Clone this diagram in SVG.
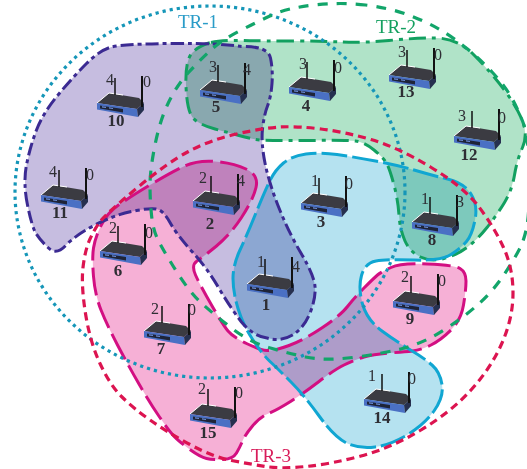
<svg xmlns="http://www.w3.org/2000/svg" xmlns:xlink="http://www.w3.org/1999/xlink" width="527" height="469" viewBox="0 0 527 469">
<style>
text{font-family:"Liberation Serif","DejaVu Serif",serif;text-anchor:middle;fill:#2e2e34}
.d{font-size:16px}
.n{font-size:17px;font-weight:bold}
.tr{font-size:19px}
.f{mix-blend-mode:multiply;stroke:none}
.o,.ring{fill:none}
.o{stroke-width:3;stroke-linecap:butt}
.ring{stroke-width:3.200}
</style>
<defs>
<path id="pu" d="M27.5 205Q23 183 26.500 165Q30 147 36.500 130Q43 113 58 95Q73 77 86.500 63.500Q100 50 111.500 47Q123 44 171.500 43.500Q220 43 241.500 46.500Q268 46 270.500 58Q273 70 272 83.500Q271 97 267.500 106Q264 115 262.500 129Q261 143 265 163Q269 183 279 208Q289 233 301.500 254Q314 275 315 286.500Q316 298 310 313Q304 328 292.500 335Q281 342 267 338Q253 336 241.500 322Q230 307 218.500 287.500Q207 268 192 251.500Q177 235 170 222.500Q163 210 156.500 209Q150 208 136.500 210.500Q123 213 111.500 217.500Q100 222 88.500 228.500Q77 235 67 244Q57 256 48.500 248Q40 240 36 233.500Q32 227 27.500 205Z"/>
<path id="gr" d="M211 42.500Q222 40 243 40.500Q264 41 292.500 41Q321 41 342.500 42Q364 43 389 40.500Q414 38 435.500 38Q457 38 474 55Q491 72 504 89.500Q517 107 522.500 121Q528 135 522.500 147.500Q517 160 514.500 175Q512 190 504.500 202.500Q497 215 487 227.500Q477 240 467 247.500Q457 255 444 258.500Q431 262 420.500 257Q410 252 405 241Q400 230 399 215Q398 200 394 185Q390 170 387 164Q384 158 374 150Q364 142 355.500 141Q347 140 305.500 140.500Q264 141 256 139.500Q248 138 239 135.500Q230 133 215 129Q200 125 193.500 118.500Q187 112 186 86Q185 60 192.500 52.500Q200 45 211 42.500Z"/>
<path id="bl" d="M451 254.500Q441 261 414 260Q387 259 376 261Q365 263 361.500 275.500Q358 288 362.500 304Q367 320 382 331Q397 342 410.500 350Q424 358 432 365Q440 372 442 384.500Q444 397 434 411Q424 425 407 435Q390 445 375 447Q360 449 347.500 443.500Q335 438 319.500 416.500Q304 395 290.500 381.500Q277 368 270 361.500Q263 355 253 340Q243 325 238 308.500Q233 292 233 278.500Q233 265 240 250Q247 235 255.500 214Q264 193 269.500 181.500Q275 170 283.500 163Q292 156 306 154Q320 152 337 154.500Q354 157 375.500 161Q397 165 414 170Q431 175 447.500 179Q464 183 471 194Q478 205 475 220Q472 235 466.500 241.500Q461 248 451 254.500Z"/>
<path id="pk" d="M101 225.500Q107 213 118.500 205Q130 197 150 185Q170 173 183.500 166.500Q197 160 215 161.500Q233 163 246 169Q259 175 256 187.500Q253 200 241.500 217.500Q230 235 216.500 246Q203 257 197 261Q191 265 195.500 275Q200 285 211.500 305Q223 325 228 331Q233 337 246.500 343.500Q260 350 267 350.500Q274 351 289 345.500Q304 340 322.500 327.500Q341 315 347.500 306.500Q354 298 364 288Q374 278 377.500 275Q381 272 391 267.500Q401 263 427.500 264Q454 265 460 268.500Q466 272 466 281Q466 290 463.500 305Q461 320 451 330Q441 340 431 345Q421 350 412.500 351Q404 352 389 353Q374 354 364 357Q354 360 344 365Q334 370 319 381.500Q304 393 290.500 401.500Q277 410 268.500 413.500Q260 417 252.500 426Q245 435 242.500 441Q240 447 236.500 453Q233 459 223 459.500Q213 460 206.500 458.500Q200 457 188.500 448.500Q177 440 172 434Q167 428 158.500 415.500Q150 403 139 384Q128 365 117.500 345Q107 325 101 310Q95 295 93.500 276.500Q92 258 93.500 248Q95 238 101 225.500Z"/>
<g id="router">
<polygon points="-18,11 -6,1 24,6 29,11 22,17" fill="#3b3b42"/>
<polyline points="-18,11 -6,1 8,3" fill="none" stroke="#fff" stroke-width="1"/>
<polygon points="-18,11 22,17 23,25 -18,17.500" fill="#4a70c4"/>
<polygon points="22,17 29,11 29,18 23,25" fill="#26304f"/>
<polygon points="-15,13.500 8,17 8,20.500 -15,16.500" fill="#1e2438"/>
<polygon points="-13,14.200 -9,14.800 -9,16 -13,15.400" fill="#6f8fd6"/>
<polygon points="-6,15.300 -2,15.900 -2,17.100 -6,16.500" fill="#6f8fd6"/>
<line x1="0" y1="-14" x2="0" y2="3" stroke="#111" stroke-width="1.500"/>
<line x1="27" y1="-16" x2="27" y2="15" stroke="#111" stroke-width="2"/>
</g>
</defs>
<rect width="527" height="469" fill="#fff"/>
<g id="regions" style="isolation:isolate">
<use xlink:href="#pu" href="#pu" class="f" fill="#c6bde0"/>
<use xlink:href="#gr" href="#gr" class="f" fill="#b0e3c8"/>
<use xlink:href="#bl" href="#bl" class="f" fill="#b5e2f0"/>
<use xlink:href="#pk" href="#pk" class="f" fill="#f6b0d6"/>
</g>
<g id="connectors">
<use xlink:href="#gr" href="#gr" class="o" stroke="#12a060" stroke-dasharray="17 6 4 6"/>
<use xlink:href="#pk" href="#pk" class="o" stroke="#d30f82" stroke-dasharray="28 7"/>
<use xlink:href="#bl" href="#bl" class="o" stroke="#10a6d2" stroke-dasharray="26 5"/>
<use xlink:href="#pu" href="#pu" class="o" stroke="#3b2a92" stroke-dasharray="13 4 4 4"/>
<ellipse cx="210" cy="192" rx="195" ry="186" class="ring" stroke="#1596b8" stroke-dasharray="3.200 4"/>
<path class="ring" stroke="#12a56a" stroke-dasharray="10 9" d="M365.500 5Q341 2 314 5Q287 8 272 15Q257 22 239.500 31Q222 40 211 50Q200 60 188.500 72.500Q177 85 168.500 102.500Q160 120 155 145Q150 170 150 185Q150 200 151.500 215Q153 230 158 240Q163 250 176.500 271.500Q190 293 203.500 305Q217 317 233.500 329.500Q250 342 268.500 347.500Q287 353 305.500 357Q324 361 352.500 357.500Q381 354 402.500 348.500Q424 343 444 330Q464 317 477.500 305Q491 293 501 279Q511 265 519 250Q527 235 528.500 212.500Q530 190 529 162.500Q528 135 522.500 121Q517 107 510.500 96Q504 85 492.500 72.500Q481 60 467.500 49Q454 38 440.500 30Q427 22 408.500 15Q390 8 365.500 5Z"/>
<path class="ring" stroke="#dc1450" stroke-dasharray="8 5" d="M101 220.500Q107 213 137 188Q167 163 188.500 151.500Q210 140 236.500 134Q263 128 280 127Q297 126 321 129Q345 132 371 139.500Q397 147 430.500 167Q464 187 479 207Q494 227 503.500 247.500Q513 268 513 293Q513 318 502 343Q491 368 471 390Q451 412 421 430Q391 448 361 456Q331 464 306 466.500Q281 469 265.500 466.500Q250 464 231.500 460.500Q213 457 190 444.500Q167 432 150 420Q133 408 121.500 396.500Q110 385 100 363.500Q90 342 85.500 313.500Q81 285 83 267.500Q85 250 90 239Q95 228 101 220.500Z"/>
</g>
<g id="labels">
<text class="tr" x="198" y="28" style="fill:#2a9cc8">TR-1</text>
<text class="tr" x="396" y="33" style="fill:#15a060">TR-2</text>
<text class="tr" x="271" y="462" style="fill:#d81c5a">TR-3</text>
</g>
<g id="node-1"><use xlink:href="#router" href="#router" x="265" y="273"/><text class="d" x="261" y="267">1</text><text class="d" x="296" y="272">4</text><text class="n" x="266" y="310">1</text></g>
<g id="node-2"><use xlink:href="#router" href="#router" x="211" y="190"/><text class="d" x="203" y="183">2</text><text class="d" x="241" y="186">4</text><text class="n" x="210" y="229">2</text></g>
<g id="node-3"><use xlink:href="#router" href="#router" x="319" y="192"/><text class="d" x="315" y="186">1</text><text class="d" x="349" y="189">0</text><text class="n" x="321" y="227">3</text></g>
<g id="node-4"><use xlink:href="#router" href="#router" x="307" y="76"/><text class="d" x="303" y="69">3</text><text class="d" x="338" y="73">0</text><text class="n" x="306" y="111">4</text></g>
<g id="node-5"><use xlink:href="#router" href="#router" x="218" y="79"/><text class="d" x="213" y="72">3</text><text class="d" x="247" y="75">4</text><text class="n" x="216" y="112">5</text></g>
<g id="node-6"><use xlink:href="#router" href="#router" x="118" y="240"/><text class="d" x="113" y="233">2</text><text class="d" x="149" y="238">0</text><text class="n" x="118" y="276">6</text></g>
<g id="node-7"><use xlink:href="#router" href="#router" x="162" y="320"/><text class="d" x="155" y="314">2</text><text class="d" x="192" y="315">0</text><text class="n" x="161" y="354">7</text></g>
<g id="node-8"><use xlink:href="#router" href="#router" x="430" y="211"/><text class="d" x="425" y="204">1</text><text class="d" x="460" y="207">3</text><text class="n" x="432" y="245">8</text></g>
<g id="node-9"><use xlink:href="#router" href="#router" x="411" y="290"/><text class="d" x="405" y="282">2</text><text class="d" x="442" y="286">0</text><text class="n" x="410" y="324">9</text></g>
<g id="node-10"><use xlink:href="#router" href="#router" x="115" y="92"/><text class="d" x="110" y="85">4</text><text class="d" x="147" y="87">0</text><text class="n" x="116" y="126">10</text></g>
<g id="node-11"><use xlink:href="#router" href="#router" x="59" y="184"/><text class="d" x="53" y="177">4</text><text class="d" x="90" y="180">0</text><text class="n" x="60" y="218">11</text></g>
<g id="node-12"><use xlink:href="#router" href="#router" x="472" y="125"/><text class="d" x="462" y="121">3</text><text class="d" x="502" y="123">0</text><text class="n" x="469" y="160">12</text></g>
<g id="node-13"><use xlink:href="#router" href="#router" x="407" y="64"/><text class="d" x="402" y="57">3</text><text class="d" x="438" y="60">0</text><text class="n" x="406" y="97">13</text></g>
<g id="node-14"><use xlink:href="#router" href="#router" x="382" y="388"/><text class="d" x="372" y="381">1</text><text class="d" x="412" y="384">0</text><text class="n" x="382" y="423">14</text></g>
<g id="node-15"><use xlink:href="#router" href="#router" x="208" y="403"/><text class="d" x="202" y="394">2</text><text class="d" x="239" y="398">0</text><text class="n" x="208" y="438">15</text></g>
</svg>
